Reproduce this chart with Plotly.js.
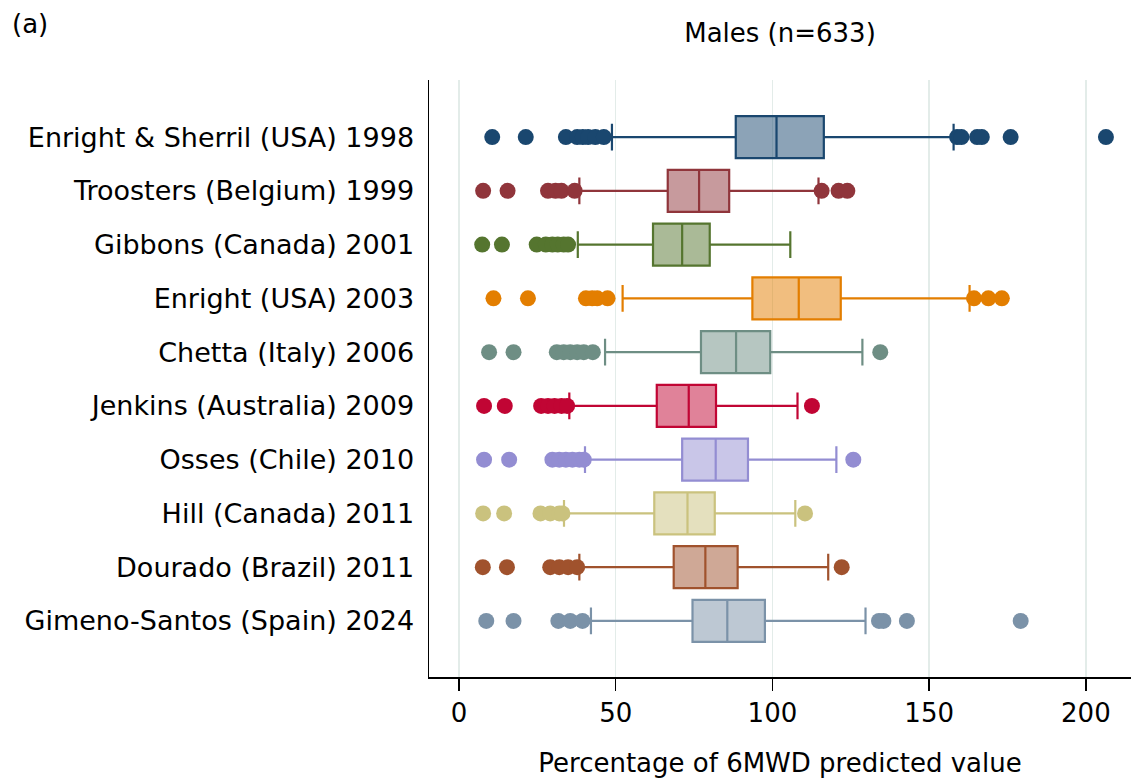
<!DOCTYPE html>
<html>
<head>
<meta charset="utf-8">
<script src="https://cdn.plot.ly/plotly-3.0.1.min.js"></script>
<style>html,body{margin:0;padding:0;background:#fff;}#chart{width:1131px;height:781px;}</style>
</head>
<body>
<div id="chart"></div>
<script>
// ---- data ----
const studies = [
  "Enright & Sherril (USA) 1998",
  "Troosters (Belgium) 1999",
  "Gibbons (Canada) 2001",
  "Enright (USA) 2003",
  "Chetta (Italy) 2006",
  "Jenkins (Australia) 2009",
  "Osses (Chile) 2010",
  "Hill (Canada) 2011",
  "Dourado (Brazil) 2011",
  "Gimeno-Santos (Spain) 2024"
];
const lowerWhisker = [48.8, 38.4, 37.9, 52.2, 46.6, 35.2, 40.2, 33.5, 38.4, 42.1];
const q1Values     = [88.3, 66.6, 61.9, 93.6, 77.2, 63.1, 71.2, 62.3, 68.5, 74.5];
const medianValues = [101.3, 76.6, 71.2, 108.4, 88.4, 73.3, 81.9, 72.9, 78.6, 85.6];
const q3Values     = [116.4, 86.2, 80.0, 121.8, 99.3, 82.0, 92.2, 81.6, 88.9, 97.6];
const upperWhisker = [157.8, 114.7, 105.7, 162.9, 128.7, 108.0, 120.4, 107.3, 117.8, 129.7];
const outliers = [
  [10.6, 21.3, 34.1, 37.7, 39.5, 41.2, 43.5, 46.2, 158.9, 160.3, 165.3, 166.8, 176.0, 206.4],
  [7.7, 15.5, 28.4, 30.8, 32.7, 36.9, 115.7, 121.1, 123.9],
  [7.4, 13.7, 24.8, 27.7, 29.8, 31.5, 33.4, 34.8],
  [11.0, 22.0, 40.5, 42.5, 44.1, 47.4, 164.3, 168.9, 173.2],
  [9.6, 17.4, 31.2, 33.4, 35.5, 37.7, 39.8, 42.7, 134.4],
  [8.0, 14.6, 26.2, 28.4, 30.5, 32.7, 34.5, 112.6],
  [8.0, 16.0, 29.8, 32.0, 34.1, 36.2, 38.4, 39.8, 125.8],
  [7.7, 14.4, 26.0, 29.1, 32.0, 33.0, 110.4],
  [7.6, 15.3, 29.1, 32.0, 34.8, 37.7, 122.1],
  [8.7, 17.4, 31.7, 35.5, 39.4, 134.0, 135.4, 142.9, 179.2]
];
const xTicks = [0, 50, 100, 150, 200];

// ---- styles ----
const colors = ["26,71,111", "144,53,59", "85,117,47", "227,126,0", "110,142,132",
                "193,5,52", "147,141,210", "202,194,126", "160,82,45", "123,146,168"];
const FONT = "DejaVu Sans, Liberation Sans, Arial, sans-serif";

const traces = [];
studies.forEach((s, i) => {
  traces.push({
    type: "box",
    orientation: "h",
    y: [s],
    q1: [q1Values[i]],
    median: [medianValues[i]],
    q3: [q3Values[i]],
    lowerfence: [lowerWhisker[i]],
    upperfence: [upperWhisker[i]],
    boxpoints: false,
    width: 0.78,
    whiskerwidth: 0.64,
    line: {color: "rgb(" + colors[i] + ")", width: 2.2},
    fillcolor: "rgba(" + colors[i] + ",0.5)",
    showlegend: false,
    hoverinfo: "skip"
  });
  traces.push({
    type: "scatter",
    mode: "markers",
    x: outliers[i],
    y: outliers[i].map(() => s),
    marker: {color: "rgb(" + colors[i] + ")", size: 16, line: {width: 0}},
    showlegend: false,
    hoverinfo: "skip"
  });
});

const layout = {
  width: 1131,
  height: 781,
  margin: {l: 429, r: 0, t: 80, b: 104, pad: 0},
  paper_bgcolor: "#ffffff",
  plot_bgcolor: "#ffffff",
  font: {family: FONT, size: 26, color: "#000000"},
  boxmode: "overlay",
  hovermode: false,
  title: {
    text: "Males (n=633)",
    font: {family: FONT, size: 26, color: "#000"},
    xref: "paper", x: 0.5, xanchor: "center",
    yref: "container", y: 1 - 33 / 781, yanchor: "middle"
  },
  xaxis: {
    range: [-9.57, 214.4],
    tickvals: xTicks,
    ticktext: xTicks.map(String),
    showgrid: true,
    gridcolor: "#e3ece9",
    gridwidth: 1.5,
    zeroline: false,
    showline: true,
    linecolor: "#000",
    linewidth: 1.5,
    ticks: "outside",
    ticklen: 12,
    tickwidth: 1.5,
    tickcolor: "#000",
    tickfont: {family: FONT, size: 26, color: "#000"},
    title: {text: "Percentage of 6MWD predicted value", font: {family: FONT, size: 26, color: "#000"}, standoff: 27}
  },
  yaxis: {
    type: "category",
    categoryorder: "array",
    categoryarray: studies,
    range: [10.043, -1.062],
    showgrid: false,
    zeroline: false,
    showline: true,
    linecolor: "#000",
    linewidth: 1.5,
    ticks: "",
    ticklabelstandoff: 8,
    tickfont: {family: FONT, size: 27, color: "#000"}
  },
  annotations: [{
    text: "(a)",
    xref: "paper", x: (10 - 429) / 702, xanchor: "left",
    yref: "paper", y: 1 + (80 - 24) / 597, yanchor: "middle",
    showarrow: false,
    font: {family: FONT, size: 26, color: "#000"}
  }]
};

Plotly.newPlot("chart", traces, layout, {staticPlot: true, displayModeBar: false});
</script>
</body>
</html>
